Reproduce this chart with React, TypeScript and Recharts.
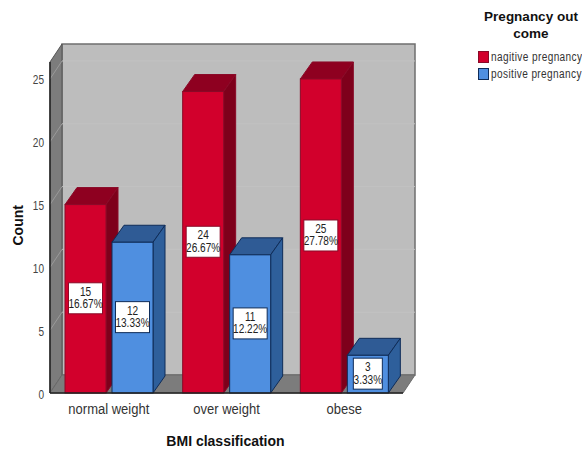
import { BarChart, Bar, XAxis, YAxis, Legend, LabelList, usePlotArea } from 'recharts'

const categories = ['normal weight', 'over weight', 'obese']
const negative = [15, 24, 25]
const positive = [12, 11, 3]
const negativePercent = ['16.67%', '26.67%', '27.78%']
const positivePercent = ['13.33%', '12.22%', '3.33%']
const yTicks = [0, 5, 10, 15, 20, 25]
const Y_MAX = 26.35

const SANS = '"Liberation Sans", Arial, sans-serif'

// Offset of the back plane relative to the front plane
const DEPTH_X = 12
const DEPTH_Y = 18

const RED = { front: '#d2002c', top: '#8e0020', side: '#7e001b', line: '#8a0a28' }
const BLUE = { front: '#4f8fe0', top: '#2f5b95', side: '#2e5f9b', line: '#0f2c58' }

const chartData = categories.map((name, i) => ({
  name,
  negative: negative[i],
  positive: positive[i],
  negativePercent: negativePercent[i],
  positivePercent: positivePercent[i],
}))

// Text squeezed horizontally, the narrow face is not available as a font
function NarrowText({ x, y, size, anchor = 'middle', fill = '#333', squeeze = 0.84, children }: any) {
  return (
    <text
      transform={`translate(${x},${y}) scale(${squeeze},1)`}
      textAnchor={anchor}
      fontFamily={SANS}
      fontSize={size}
      fill={fill}
    >
      {children}
    </text>
  )
}

// Back wall, left wall and floor of the 3D box
function Walls() {
  const plot = usePlotArea()
  if (!plot) return null
  const { x, y, width, height } = plot
  const bottom = y + height
  const right = x + width
  const gridY = yTicks.slice(1).map(v => bottom - (v / Y_MAX) * height)
  return (
    <g>
      <rect x={x + DEPTH_X} y={y - DEPTH_Y} width={width} height={height} fill="#bdbdbd" stroke="#6f6f6f" strokeWidth={1.5} />
      <polygon
        points={`${x},${y} ${x + DEPTH_X},${y - DEPTH_Y} ${x + DEPTH_X},${bottom - DEPTH_Y} ${x},${bottom}`}
        fill="#7c7c7c"
        stroke="#555"
      />
      <polygon
        points={`${x},${bottom} ${x + DEPTH_X},${bottom - DEPTH_Y} ${right + DEPTH_X},${bottom - DEPTH_Y} ${right},${bottom}`}
        fill="#7c7c7c"
        stroke="#6a6a6a"
      />
      {gridY.map(g => (
        <g key={g}>
          <line x1={x + DEPTH_X} x2={right + DEPTH_X} y1={g - DEPTH_Y} y2={g - DEPTH_Y} stroke="#c2c2c2" />
          <line x1={x} x2={x + DEPTH_X} y1={g} y2={g - DEPTH_Y} stroke="#9a9a9a" />
        </g>
      ))}
    </g>
  )
}

// Bar with a lit front face, a darker top and a darker side
function Box3D(props: any) {
  const { x, y, width, height, colors } = props
  const dy = DEPTH_Y - 1
  return (
    <g stroke={colors.line} strokeWidth={1}>
      <polygon
        points={`${x},${y} ${x + DEPTH_X},${y - dy} ${x + width + DEPTH_X},${y - dy} ${x + width},${y}`}
        fill={colors.top}
      />
      <polygon
        points={`${x + width},${y} ${x + width + DEPTH_X},${y - dy} ${x + width + DEPTH_X},${y + height - dy} ${x + width},${y + height}`}
        fill={colors.side}
      />
      <rect x={x} y={y} width={width} height={height} fill={colors.front} />
    </g>
  )
}

// White tag in the middle of a bar with the count above the share
function ValueTag(props: any) {
  const { x, y, width, height, value, index, percents, border } = props
  const boxW = percents[index].length > 5 ? 34 : 29
  const boxH = 31
  const cx = x + width / 2
  const cy = y + height / 2 - 0.5
  return (
    <g>
      <rect x={cx - boxW / 2} y={cy - boxH / 2} width={boxW} height={boxH} fill="#fff" stroke={border} strokeWidth={1} />
      <NarrowText x={cx} y={cy - 2.5} size={12} fill="#222">{value}</NarrowText>
      <NarrowText x={cx} y={cy + 10} size={12} fill="#222">{percents[index]}</NarrowText>
    </g>
  )
}

function CategoryTick({ x, y, payload }: any) {
  return <NarrowText x={x} y={y + 13} size={15.5}>{payload.value}</NarrowText>
}

function CountTick({ x, y, payload }: any) {
  return <NarrowText x={x + 2} y={y + 5.5} size={12} anchor="end" fill="#444">{payload.value}</NarrowText>
}

function LegendBox() {
  const items = [
    { label: 'nagitive pregnancy', color: RED.front, line: RED.line },
    { label: 'positive pregnancy', color: BLUE.front, line: BLUE.line },
  ]
  return (
    <div style={{ width: 130 }}>
      <div style={{ fontFamily: SANS, fontWeight: 700, fontSize: 13.5, lineHeight: '17px', textAlign: 'center', color: '#111', width: 120, marginLeft: 13 }}>
        Pregnancy out
        <br />
        come
      </div>
      <div style={{ marginTop: 6, marginLeft: 20 }}>
        {items.map(item => (
          <div key={item.label} style={{ display: 'flex', alignItems: 'center', height: 17 }}>
            <span style={{ width: 11, height: 12, background: item.color, border: `1px solid ${item.line}`, boxSizing: 'border-box', marginRight: 2, flex: 'none' }} />
            <span style={{ fontFamily: SANS, fontSize: 12, letterSpacing: 0.45, color: '#333', whiteSpace: 'nowrap', transform: 'scaleX(0.84)', transformOrigin: 'left center' }}>{item.label}</span>
          </div>
        ))}
      </div>
    </div>
  )
}

export default function App() {
  return (
    <div style={{ position: 'absolute', left: 0, top: 0, width: 582, height: 451, background: '#fff' }}>
      <BarChart
        width={582}
        height={451}
        data={chartData}
        margin={{ top: 62, right: 49, bottom: 0, left: 10 }}
        barGap={6}
        barCategoryGap={15}
        barSize={41}
      >
        <Walls />
        <XAxis
          dataKey="name"
          height={58}
          tickLine={false}
          axisLine={{ stroke: '#222', strokeWidth: 1.5 }}
          tick={<CategoryTick />}
          interval={0}
          label={{ value: 'BMI classification', position: 'insideBottom', offset: 5, fontFamily: SANS, fontWeight: 700, fontSize: 14, fill: '#111', dx: -1 }}
        />
        <YAxis
          width={40}
          domain={[0, Y_MAX]}
          ticks={yTicks}
          tickLine={false}
          axisLine={{ stroke: '#222', strokeWidth: 1.5 }}
          tick={<CountTick />}
          label={{ value: 'Count', angle: -90, position: 'insideLeft', dx: 3, dy: 18, fontFamily: SANS, fontWeight: 700, fontSize: 14, fill: '#111' }}
        />
        <Legend layout="vertical" align="right" verticalAlign="top" wrapperStyle={{ left: 458, top: 8, right: 'auto', width: 130 }} content={<LegendBox />} />
        <Bar dataKey="negative" isAnimationActive={false} shape={(p: any) => <Box3D {...p} colors={RED} />}>
          <LabelList dataKey="negative" content={(p: any) => <ValueTag {...p} percents={negativePercent} border={RED.line} />} />
        </Bar>
        <Bar dataKey="positive" isAnimationActive={false} shape={(p: any) => <Box3D {...p} colors={BLUE} />}>
          <LabelList dataKey="positive" content={(p: any) => <ValueTag {...p} percents={positivePercent} border={BLUE.line} />} />
        </Bar>
      </BarChart>
    </div>
  )
}
